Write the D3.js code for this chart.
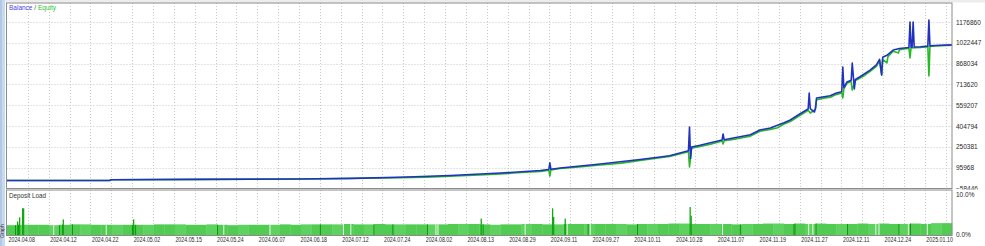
<!DOCTYPE html>
<html><head><meta charset="utf-8">
<script src="https://cdn.jsdelivr.net/npm/d3@7"></script>
<style>
body{margin:0;background:#fff;}
svg{display:block;font-family:"Liberation Sans",Arial,sans-serif;}
</style></head><body>
<svg id="c" width="985" height="246"></svg>
<script>
const dateLabels = ["2024.04.08","2024.04.12","2024.04.22","2024.05.02","2024.05.15","2024.05.24","2024.06.07","2024.06.18","2024.07.12","2024.07.24","2024.08.02","2024.08.13","2024.08.29","2024.09.11","2024.09.27","2024.10.11","2024.10.28","2024.11.07","2024.11.19","2024.11.27","2024.12.11","2024.12.24","2025.01.10"];
const balanceTicks = [1176860,1022447,868034,713620,559207,404794,250381,95968,-58446];
const loadTicks = [10,0];

// [trade number, value]
const balance = [[0,1000],[98,1000],[99,7000],[184,9000],[279,12000],[327,17000],[374,25000],[422,38000],[470,56000],[508,75000],[516,82000],[517,132000],[518,84000],[527,94000],[565,123000],[603,157000],[622,175000],[631,185000],[649,222000],[650,398000],[651,165000],[652,250000],[660,262000],[681,301000],[682,346000],[683,303000],[708,340000],[717,375000],[727,390000],[740,430000],[746,450000],[755,494000],[763,531000],[764,650000],[765,535000],[769,509000],[770,540000],[771,613000],[784,630000],[790,650000],[795,660000],[796,843000],[797,690000],[800,732000],[804,745000],[805,872000],[807,680000],[808,750000],[812,769000],[822,820000],[828,858000],[831,900000],[833,784000],[834,915000],[838,930000],[844,969000],[850,980000],[859,988000],[860,1177000],[861,990000],[862,990000],[863,1177000],[864,991000],[870,993000],[877,998000],[878,1192000],[879,1000000],[884,1003000],[900,1007000]];
const equity = [[0,1000],[98,1000],[99,7000],[184,9000],[279,12000],[327,16000],[374,22000],[400,26000],[422,33000],[450,42000],[470,50000],[490,60000],[508,68000],[516,78000],[517,34000],[518,80000],[527,90000],[545,101000],[565,116000],[585,130000],[603,150000],[622,170000],[631,180000],[649,214000],[650,101000],[652,240000],[660,254000],[670,270000],[681,294000],[682,272000],[683,296000],[695,310000],[708,330000],[717,366000],[727,380000],[734,392000],[740,420000],[746,438000],[755,482000],[763,522000],[765,502000],[770,528000],[771,600000],[778,612000],[784,618000],[790,640000],[795,650000],[796,613000],[797,680000],[800,722000],[804,735000],[805,672000],[808,742000],[812,760000],[817,782000],[822,810000],[828,848000],[831,890000],[833,784000],[834,900000],[838,873000],[839,920000],[844,960000],[849,947000],[850,972000],[859,982000],[860,910000],[861,985000],[870,988000],[877,993000],[878,776000],[879,996000],[884,1000000],[900,1004000]];

// deposit load (%), one value per block of 10 trades
const depositLoad = [2.5,2.6,2.6,2.6,2.5,2.6,2.7,2.7,2.6,2.6,
 2.6,2.6,2.6,2.6,2.7,2.7,2.7,2.6,2.6,2.7,
 2.6,2.5,2.6,2.6,2.6,2.6,2.7,2.6,2.7,2.7,
 2.7,2.7,2.8,2.7,2.7,2.8,2.7,2.7,2.7,2.7,
 2.7,2.7,2.8,2.8,2.8,2.7,2.6,2.7,2.7,2.8,
 2.8,2.7,2.7,2.8,2.8,2.8,2.8,2.8,2.8,2.7,
 2.8,2.8,2.8,2.9,2.9,2.8,2.8,2.8,2.8,2.7,
 2.8,2.8,2.9,2.9,2.8,2.9,2.8,2.9,2.8,2.8,
 2.8,2.9,2.8,2.9,2.8,2.8,2.9,2.8,3.0,3.0];
const loadSpikes = [[9.5,3.4],[11.4,4.4],[14.3,6.6],[15.2,6.6],[53,3.9],[120,3.9],[451,4.1],[519,6.6],[520,4.5],[531,4.1],[650,6.9],[651,4.8]];
const loadDark = [7.6,10.5,49.5,52.4,61.9,119,122,200,298,349,367,400,453,520,531,553,600,698,749,750,770,800,849,860];
const loadGaps = [44,94,206,250,320,327,408,410,493,533,555,681,763,767,827,830,858,876];

const svg = d3.select("#c");
const L = 6.5, R = 952, mainTop = 3, mainBottom = 188.5, subTop = 190, subBottom = 235.5;

const x = d3.scaleLinear().domain([0,900]).range([7,R]);
const y = d3.scaleLinear().domain([-58446,1176860]).range([188.5,22]);
const yl = d3.scaleLinear().domain([0,10]).range([subBottom,194.3]);
const gx = d3.scaleLinear().domain([0,45]).range([7,945.7]);

// background strips
svg.append("rect").attr("x",0).attr("y",0).attr("width",985).attr("height",2.5).attr("fill","#ececec");
svg.append("rect").attr("x",0).attr("y",0).attr("width",5).attr("height",246).attr("fill","#c8daf0");
svg.append("line").attr("x1",1).attr("x2",1).attr("y1",0).attr("y2",246).attr("stroke","#9db7d9");
svg.append("text").attr("transform","translate(3.6,238) rotate(-90)").attr("font-size",5).attr("fill","#333").text("Graph");

// grid
const grid = svg.append("g").attr("stroke","#c9c9c9").attr("stroke-dasharray","1,2").attr("stroke-width",1);
grid.selectAll(".hg").data(balanceTicks.slice(0,-1)).join("line")
  .attr("x1",L).attr("x2",R).attr("y1",d=>Math.round(y(d))+0.5).attr("y2",d=>Math.round(y(d))+0.5);
const vIdx = d3.range(1,46);
grid.selectAll(".vg").data(vIdx).join("line")
  .attr("x1",d=>Math.round(gx(d))+0.5).attr("x2",d=>Math.round(gx(d))+0.5)
  .attr("y1",mainTop).attr("y2",mainBottom);
grid.selectAll(".vg2").data(vIdx).join("line")
  .attr("x1",d=>Math.round(gx(d))+0.5).attr("x2",d=>Math.round(gx(d))+0.5)
  .attr("y1",subTop).attr("y2",subBottom);

// deposit load bars
const bw = x(10)-x(0);
svg.append("g").selectAll("rect").data(depositLoad).join("rect")
  .attr("x",(d,i)=>x(i*10)).attr("width",bw+0.3)
  .attr("y",d=>yl(d)).attr("height",d=>yl(0)-yl(d))
  .attr("fill",(d,i)=> i%3===1 ? "#5ed25e" : "#52cb52");
svg.append("g").selectAll("rect").data(loadDark).join("rect")
  .attr("x",d=>x(d)).attr("width",1)
  .attr("y",d=>yl(depositLoad[Math.floor(d/10)])).attr("height",d=>yl(0)-yl(depositLoad[Math.floor(d/10)]))
  .attr("fill","#0c9a0c");
svg.append("g").selectAll("rect").data(loadGaps).join("rect")
  .attr("x",d=>x(d)).attr("width",1)
  .attr("y",d=>yl(depositLoad[Math.floor(d/10)])).attr("height",d=>yl(0)-yl(depositLoad[Math.floor(d/10)]))
  .attr("fill","#e6f7e6");
svg.append("g").selectAll("rect").data(loadSpikes).join("rect")
  .attr("x",d=>x(d[0])).attr("width",1.3)
  .attr("y",d=>yl(d[1])).attr("height",d=>yl(0)-yl(d[1]))
  .attr("fill","#10a810");

// lines
const line = d3.line().x(d=>x(d[0])).y(d=>y(d[1]));
svg.append("path").datum(equity).attr("d",line).attr("fill","none")
  .attr("stroke","#25bb25").attr("stroke-width",1.6).attr("stroke-linejoin","round");
svg.append("path").datum(balance).attr("d",line).attr("fill","none")
  .attr("stroke","#2232c0").attr("stroke-width",1.6).attr("stroke-linejoin","round");

// frames
const fr = svg.append("g").attr("fill","none").attr("stroke","#8c8c8c").attr("stroke-width",1);
fr.append("rect").attr("x",L).attr("y",mainTop).attr("width",R-L).attr("height",mainBottom-mainTop);
fr.append("rect").attr("x",L).attr("y",subTop).attr("width",R-L).attr("height",subBottom-subTop);

// right axis labels
const yAxis = d3.axisRight(y).tickValues(balanceTicks).tickSize(0).tickPadding(4).tickFormat(d3.format("d"));
const ya = svg.append("g").attr("transform",`translate(${R},0)`).call(yAxis);
ya.select(".domain").remove();
ya.selectAll("text").attr("font-size",6.5).attr("fill","#2a2a2a").attr("font-family","Liberation Sans, Arial, sans-serif");
svg.append("defs").append("clipPath").attr("id","clipTop").append("rect").attr("x",0).attr("y",0).attr("width",985).attr("height",189.5);
ya.attr("clip-path","url(#clipTop)");

const lAxis = d3.axisRight(yl).tickValues(loadTicks).tickSize(0).tickPadding(4).tickFormat(d=>d3.format(".1f")(d)+"%");
const la = svg.append("g").attr("transform",`translate(${R},0)`).call(lAxis);
la.select(".domain").remove();
la.selectAll("text").attr("font-size",6.5).attr("fill","#2a2a2a").attr("font-family","Liberation Sans, Arial, sans-serif");
la.selectAll(".tick").filter(d=>d===0).select("text").attr("dy","0.1em");

// date labels
const xAxis = d3.axisBottom(gx).tickValues(d3.range(0,45,2)).tickSize(0).tickPadding(0).tickFormat(d=>dateLabels[d/2]);
const xa = svg.append("g").attr("transform",`translate(0,${subBottom+1.2})`).call(xAxis);
xa.select(".domain").remove();
xa.selectAll("text").attr("text-anchor","start").attr("dx",1).attr("font-size",7)
  .attr("textLength",26.5).attr("lengthAdjust","spacingAndGlyphs")
  .attr("fill","#2a2a2a").attr("font-family","Liberation Sans, Arial, sans-serif");

// titles
const t1 = svg.append("text").attr("x",9).attr("y",10.3).attr("font-size",6.5);
t1.append("tspan").attr("fill","#4646e6").text("Balance");
t1.append("tspan").attr("fill","#555").text(" / ");
t1.append("tspan").attr("fill","#2fbf2f").text("Equity");
svg.append("text").attr("x",9).attr("y",197.5).attr("font-size",6.3).attr("fill","#333").text("Deposit Load");
</script>
</body></html>
